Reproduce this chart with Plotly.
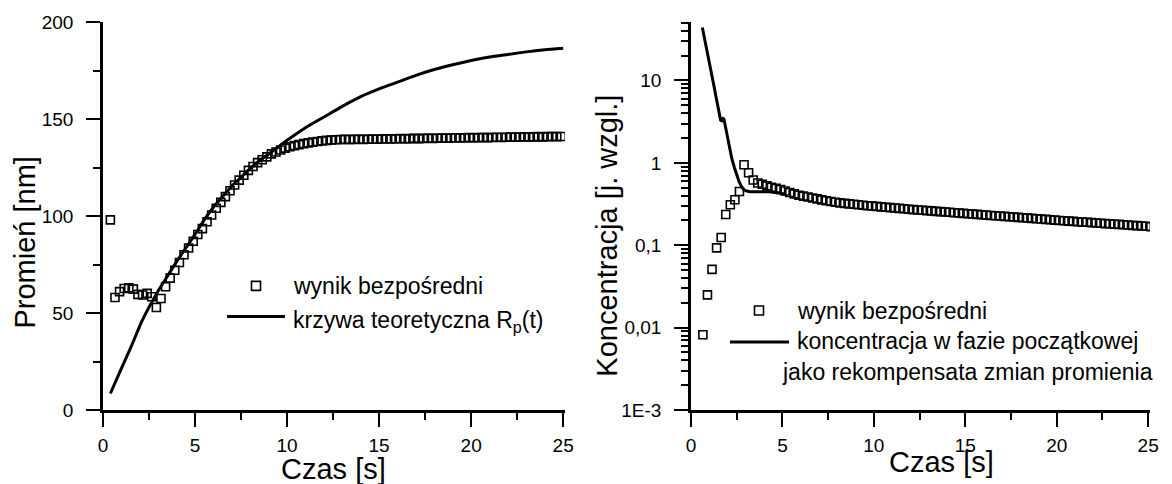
import plotly.graph_objects as go

# ---------------- data ----------------
times = [0.40, 0.65, 0.90, 1.15, 1.40, 1.65, 1.90, 2.15, 2.40, 2.65,
         2.90, 3.15, 3.40, 3.65, 3.90, 4.15, 4.40, 4.65, 4.90, 5.15,
         5.40, 5.65, 5.90, 6.15, 6.40, 6.65, 6.90, 7.15, 7.40, 7.65,
         7.90, 8.15, 8.40, 8.65, 8.90, 9.15, 9.40, 9.65, 9.90, 10.15,
         10.40, 10.65, 10.90, 11.15, 11.40, 11.65, 11.90, 12.15, 12.40, 12.65,
         12.90, 13.15, 13.40, 13.65, 13.90, 14.15, 14.40, 14.65, 14.90, 15.15,
         15.40, 15.65, 15.90, 16.15, 16.40, 16.65, 16.90, 17.15, 17.40, 17.65,
         17.90, 18.15, 18.40, 18.65, 18.90, 19.15, 19.40, 19.65, 19.90, 20.15,
         20.40, 20.65, 20.90, 21.15, 21.40, 21.65, 21.90, 22.15, 22.40, 22.65,
         22.90, 23.15, 23.40, 23.65, 23.90, 24.15, 24.40, 24.65, 24.90, 25.15]

t_radius = times[:-1]
radius_measured = [98, 58, 61, 62.6, 63, 62.3, 59.6, 59.3, 60.1, 58.4,
                   52.8, 57.5, 63.5, 68, 72, 76, 80, 83.5, 87, 90.5,
                   93.5, 97, 100.5, 104, 107, 110, 113, 116, 118.5, 121,
                   123.5, 125.5, 127.5, 129, 130.5, 132, 133, 134, 135, 135.7,
                   136.3, 136.8, 137.3, 137.7, 138.1, 138.4, 138.7, 139.0, 139.2, 139.3,
                   139.4, 139.5, 139.4, 139.5, 139.6, 139.5, 139.6, 139.7, 139.6, 139.7,
                   139.8, 139.7, 139.8, 139.9, 139.8, 139.9, 140.0, 139.9, 140.0, 140.1,
                   140.0, 140.1, 140.2, 140.1, 140.2, 140.3, 140.2, 140.3, 140.4, 140.3,
                   140.4, 140.5, 140.4, 140.5, 140.6, 140.5, 140.6, 140.7, 140.6, 140.7,
                   140.8, 140.7, 140.8, 140.9, 140.8, 140.9, 141.0, 140.9, 141.0]

t_theory = [0.4, 1.0, 1.5, 2.1, 2.5, 3.0, 3.5, 4.0, 4.5, 5.0, 5.5, 6.0, 6.5, 7.0,
            7.5, 8.0, 8.5, 9.0, 9.5, 10.0, 11.0, 12.0, 13.0, 14.0, 15.0, 16.0,
            17.0, 18.0, 19.0, 20.0, 21.0, 22.0, 23.0, 24.0, 25.0]
radius_theory = [8.5, 21.5, 32, 45.5, 53, 61.5, 69, 76.5, 83.5, 90.5, 98, 104.5,
                 110, 115.5, 120, 124.5, 128.5, 132, 135.5, 139, 145.5, 151,
                 156.5, 161.5, 165.5, 169, 172.5, 175.5, 178, 180.2, 182, 183.3,
                 184.6, 185.7, 186.5]

t_conc = times[1:]
conc_measured = [0.0082, 0.025, 0.051, 0.093, 0.124, 0.236, 0.31, 0.357, 0.45, 0.95,
                 0.76, 0.62, 0.57, 0.55, 0.525, 0.505, 0.49, 0.475, 0.455, 0.437,
                 0.42, 0.405, 0.395, 0.385, 0.375, 0.365, 0.355, 0.347, 0.34, 0.333,
                 0.327, 0.322, 0.318, 0.314, 0.31, 0.306, 0.302, 0.299, 0.296, 0.292,
                 0.289, 0.286, 0.283, 0.28, 0.277, 0.274, 0.271, 0.268, 0.266, 0.263,
                 0.261, 0.258, 0.256, 0.253, 0.251, 0.248, 0.246, 0.244, 0.241, 0.239,
                 0.237, 0.235, 0.232, 0.23, 0.228, 0.226, 0.224, 0.222, 0.22, 0.218,
                 0.216, 0.214, 0.212, 0.21, 0.208, 0.206, 0.204, 0.202, 0.2, 0.198,
                 0.196, 0.195, 0.193, 0.191, 0.19, 0.188, 0.186, 0.185, 0.183, 0.182,
                 0.18, 0.179, 0.177, 0.176, 0.174, 0.173, 0.171, 0.17, 0.168]

t_conc_line = [0.62, 0.75, 0.87, 1.0, 1.12, 1.25, 1.37, 1.5, 1.62, 1.68, 1.75, 1.8,
               1.88, 1.95, 2.1, 2.23, 2.37, 2.5, 2.63, 2.77, 2.9, 3.05, 3.25, 3.5,
               3.77, 4.0, 4.3, 4.7, 5.14]
conc_line = [44, 32, 23, 16.5, 12, 8.7, 6.3, 4.5, 3.3, 3.25, 3.45, 3.4,
             2.8, 2.15, 1.55, 1.13, 0.88, 0.71, 0.59, 0.51, 0.47, 0.455, 0.445, 0.445,
             0.447, 0.447, 0.447, 0.435, 0.415]

conc_tickvals = [0.001, 0.01, 0.1, 1, 10]
conc_ticktext = ["1E-3", "0,01", "0,1", "1", "10"]

# ---------------- layout helpers ----------------
W, H = 1172, 484
ML, MR, MT, MB = 103, 22, 16, 74
PW, PH = W - ML - MR, H - MT - MB
FONT = "Liberation Sans, Arial, sans-serif"


def px(x):
    return (x - ML) / PW


def py(y):
    return (H - MB - y) / PH


marker = dict(symbol="square-open", size=8, color="black", line=dict(width=1.6, color="black"))

fig = go.Figure()
fig.add_trace(go.Scatter(x=t_radius, y=radius_measured, mode="markers", marker=marker,
                         xaxis="x", yaxis="y", showlegend=False))
fig.add_trace(go.Scatter(x=t_theory, y=radius_theory, mode="lines",
                         line=dict(color="black", width=3, shape="spline", smoothing=0.6),
                         xaxis="x", yaxis="y", showlegend=False))
fig.add_trace(go.Scatter(x=t_conc, y=conc_measured, mode="markers", marker=marker,
                         xaxis="x2", yaxis="y2", showlegend=False))
fig.add_trace(go.Scatter(x=t_conc_line, y=conc_line, mode="lines",
                         line=dict(color="black", width=3),
                         xaxis="x2", yaxis="y2", showlegend=False))


def axis_style(standoff):
    return dict(showline=True, linecolor="black", linewidth=2.5, ticks="outside",
                ticklen=14, tickwidth=2, tickcolor="black", showgrid=False,
                zeroline=False, ticklabelstandoff=standoff,
                tickfont=dict(family=FONT, size=19, color="black"))


minor_lin = dict(ticks="outside", ticklen=7, tickwidth=2, tickcolor="black")

fig.update_layout(
    width=W, height=H,
    margin=dict(l=ML, r=MR, t=MT, b=MB),
    paper_bgcolor="white", plot_bgcolor="white",
    font=dict(family=FONT, color="black"),
    xaxis=dict(domain=[0, px(565)], range=[0, 25.1], dtick=5, anchor="y",
               minor=dict(dtick=2.5, **minor_lin), **axis_style(2)),
    yaxis=dict(domain=[0, 1], range=[0, 200], dtick=50, anchor="x",
               minor=dict(dtick=25, **minor_lin), **axis_style(9)),
    xaxis2=dict(domain=[px(691), 1], range=[0, 25.1], dtick=5, anchor="y2",
                minor=dict(dtick=2.5, **minor_lin), **axis_style(2)),
    yaxis2=dict(domain=[0, 1], type="log", range=[-3, 1.71], tickmode="array",
                tickvals=conc_tickvals, ticktext=conc_ticktext, anchor="x2",
                minor=dict(dtick="D1", ticks="outside", ticklen=7, tickwidth=1.5,
                           tickcolor="black"),
                **axis_style(9)),
)

title_font = dict(family=FONT, size=29, color="black")
leg_font = dict(family=FONT, size=23, color="black")

ann = []
ann.append(dict(text="Czas [s]", x=px(333), y=py(470), xref="paper", yref="paper",
                xanchor="center", yanchor="middle", showarrow=False, font=title_font))
ann.append(dict(text="Czas [s]", x=px(941), y=py(463), xref="paper", yref="paper",
                xanchor="center", yanchor="middle", showarrow=False, font=title_font))
ann.append(dict(text="Promień [nm]", x=px(25), y=py(240), xref="paper", yref="paper",
                xanchor="center", yanchor="middle", textangle=-90, showarrow=False,
                font=title_font))
ann.append(dict(text="Koncentracja [j. wzgl.]", x=px(607), y=py(233), xref="paper",
                yref="paper", xanchor="center", yanchor="middle", textangle=-90,
                showarrow=False, font=title_font))
ann.append(dict(text="wynik bezpośredni", x=px(291), y=py(284.5), xref="paper", yref="paper",
                xanchor="left", yanchor="middle", showarrow=False, font=leg_font))
ann.append(dict(text="krzywa teoretyczna R<sub>p</sub>(t)", x=px(291), y=py(320),
                xref="paper", yref="paper", xanchor="left", yanchor="middle",
                showarrow=False, font=leg_font))
ann.append(dict(text="wynik bezpośredni", x=px(795), y=py(309.5), xref="paper", yref="paper",
                xanchor="left", yanchor="middle", showarrow=False, font=leg_font))
ann.append(dict(text="koncentracja w fazie początkowej", x=px(795), y=py(340),
                xref="paper", yref="paper", xanchor="left", yanchor="middle",
                showarrow=False, font=leg_font))
ann.append(dict(text="jako rekompensata zmian promienia", x=px(780), y=py(371.5),
                xref="paper", yref="paper", xanchor="left", yanchor="middle",
                showarrow=False, font=leg_font))

shapes = []
for cx, cy in [(256, 284), (759, 309)]:
    shapes.append(dict(type="rect", xref="paper", yref="paper", xsizemode="pixel",
                       ysizemode="pixel", xanchor=px(cx), yanchor=py(cy),
                       x0=-4.5, x1=4.5, y0=-4.5, y1=4.5,
                       line=dict(color="black", width=1.6), fillcolor="rgba(0,0,0,0)"))
for x0, x1, yy in [(227, 285, 315), (730, 789, 341)]:
    shapes.append(dict(type="line", xref="paper", yref="paper", x0=px(x0), x1=px(x1),
                       y0=py(yy), y1=py(yy), line=dict(color="black", width=3)))

fig.update_layout(annotations=ann, shapes=shapes)

fig.write_html("out.html")
